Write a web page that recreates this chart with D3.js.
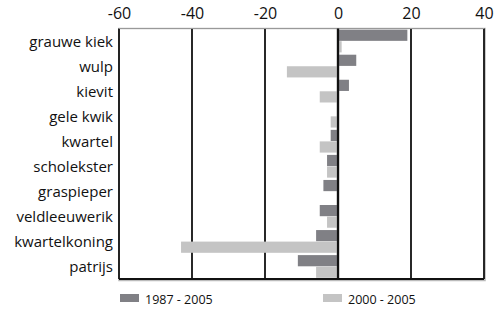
<!DOCTYPE html>
<html>
<head>
<meta charset="utf-8">
<script src="https://cdn.jsdelivr.net/npm/d3@7"></script>
<style>
  body { margin: 0; background: #fff; }
  svg { display: block; }
  text { font-family: "Open Sans", "Noto Sans", sans-serif; fill: #111; }
</style>
</head>
<body>
<svg id="chart" width="500" height="310"></svg>
<script>
const categories = ["grauwe kiek", "wulp", "kievit", "gele kwik", "kwartel", "scholekster", "graspieper", "veldleeuwerik", "kwartelkoning", "patrijs"];
const series1987 = [19, 5, 3, 0, -2, -3, -4, -5, -6, -11];
const series2000 = [1, -14, -5, -2, -5, -3, 0, -3, -43, -6];
const seriesNames = ["1987 - 2005", "2000 - 2005"];
const seriesColors = ["#808085", "#c4c4c4"];
const xTicks = [-60, -40, -20, 0, 20, 40];

(function () {
const svg = d3.select("#chart");
const pL = 119, pR = 484, pT = 28.5, pB = 279;

const x = d3.scaleLinear().domain([-60, 40]).range([pL, pR]);
const y = d3.scaleBand().domain(categories).range([pT, pB]);
const inner = d3.scaleBand().domain([0, 1]).range([0, y.bandwidth()]).paddingOuter(0.1).paddingInner(0.03);

// frame shadow
svg.append("rect").attr("x", pL).attr("y", pT).attr("width", pR - pL + 1).attr("height", pB - pT + 1.5)
  .attr("fill", "none").attr("stroke", "#bbb").attr("stroke-width", 1.5);

// gridlines
svg.append("g").selectAll("line").data(xTicks).join("line")
  .attr("x1", d => x(d)).attr("x2", d => x(d))
  .attr("y1", pT).attr("y2", pB)
  .attr("stroke", "#111").attr("stroke-width", d => d === 0 ? 2.2 : 1.8);

// frame
svg.append("line").attr("x1", pL).attr("x2", pR).attr("y1", pB).attr("y2", pB).attr("stroke", "#111").attr("stroke-width", 1.8);
svg.append("line").attr("x1", pL).attr("x2", pR).attr("y1", pT).attr("y2", pT).attr("stroke", "#999").attr("stroke-width", 1);

// bars
const data = [series1987, series2000];
data.forEach((vals, si) => {
  svg.append("g").selectAll("rect").data(vals).join("rect")
    .attr("x", d => x(Math.min(0, d)))
    .attr("width", d => Math.abs(x(d) - x(0)))
    .attr("y", (d, i) => y(categories[i]) + inner(si))
    .attr("height", inner.bandwidth())
    .attr("fill", seriesColors[si]);
});

// redraw zero line over bars
svg.append("line").attr("x1", x(0)).attr("x2", x(0)).attr("y1", pT).attr("y2", pB)
  .attr("stroke", "#111").attr("stroke-width", 2.2);

// top axis
const axis = d3.axisTop(x).tickValues(xTicks).tickSize(0).tickPadding(0).tickFormat(d3.format("d"));
const ag = svg.append("g").attr("transform", `translate(0,${pT - 9.5})`).call(axis);
ag.select(".domain").remove();
ag.selectAll("text").style("font-size", "16px").style("font-family", "'Open Sans', sans-serif").attr("fill", "#111").attr("dy", "0");
ag.selectAll("text").text(d => d < 0 ? "-" + Math.abs(d) : d);

// category labels
const yAxis = d3.axisLeft(y).tickSize(0).tickPadding(6);
const yg = svg.append("g").attr("transform", `translate(${pL},1)`).call(yAxis);
yg.select(".domain").remove();
yg.selectAll("text").style("font-size", "15px").style("font-family", "'Open Sans', sans-serif").attr("fill", "#111");

// legend
const legendX = [120, 323];
seriesNames.forEach((name, i) => {
  const g = svg.append("g").attr("transform", `translate(${legendX[i]},294)`);
  g.append("rect").attr("width", 19).attr("height", 8).attr("fill", seriesColors[i]);
  g.append("text").attr("x", 25).attr("y", 10).style("font-size", "12.5px").text(name);
});
})();
</script>
</body>
</html>
